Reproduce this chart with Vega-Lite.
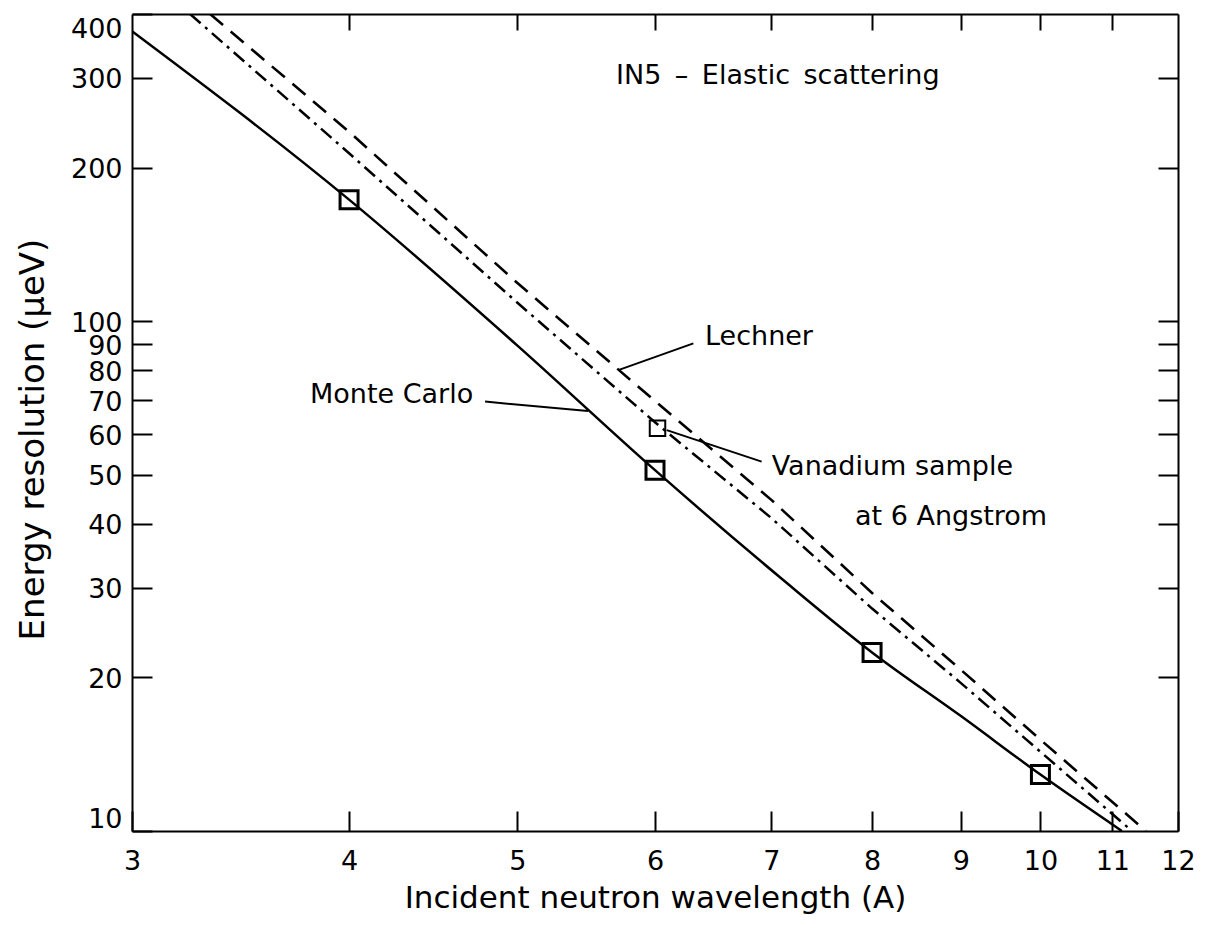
{
  "$schema": "https://vega.github.io/schema/vega-lite/v6.json",
  "width": 1046,
  "height": 817,
  "autosize": "none",
  "padding": {"left": 132, "top": 14, "right": 29, "bottom": 96},
  "background": "white",
  "config": {
    "view": {"stroke": null},
    "font": "DejaVu Sans",
    "axis": {
      "grid": false,
      "domainColor": "black",
      "domainWidth": 2,
      "tickColor": "black",
      "tickWidth": 2,
      "labelColor": "black",
      "titleColor": "black",
      "labelFont": "DejaVu Sans",
      "titleFont": "DejaVu Sans",
      "labelFontSize": 27,
      "titleFontSize": 31,
      "titleFontWeight": "normal",
      "labelOverlap": false,
      "labelBound": false
    }
  },
  "datasets": {
    "curves": [
      {"series": "Monte Carlo", "wavelength": 3.0, "energy": 370},
      {"series": "Monte Carlo", "wavelength": 4.0, "energy": 173},
      {"series": "Monte Carlo", "wavelength": 5.0, "energy": 89.5},
      {"series": "Monte Carlo", "wavelength": 6.0, "energy": 51},
      {"series": "Monte Carlo", "wavelength": 7.1, "energy": 31.2},
      {"series": "Monte Carlo", "wavelength": 8.0, "energy": 22.4},
      {"series": "Monte Carlo", "wavelength": 9.0, "energy": 16.8},
      {"series": "Monte Carlo", "wavelength": 10.0, "energy": 12.9},
      {"series": "Monte Carlo", "wavelength": 11.14, "energy": 10},
      {"series": "Lechner", "wavelength": 3.327, "energy": 400},
      {"series": "Lechner", "wavelength": 4.0, "energy": 235},
      {"series": "Lechner", "wavelength": 5.0, "energy": 118.7},
      {"series": "Lechner", "wavelength": 6.0, "energy": 69.7},
      {"series": "Lechner", "wavelength": 7.0, "energy": 44.6},
      {"series": "Lechner", "wavelength": 8.0, "energy": 29.3},
      {"series": "Lechner", "wavelength": 9.0, "energy": 20.7},
      {"series": "Lechner", "wavelength": 10.0, "energy": 15.1},
      {"series": "Lechner", "wavelength": 11.5, "energy": 10},
      {"series": "Other estimate", "wavelength": 3.24, "energy": 400},
      {"series": "Other estimate", "wavelength": 4.0, "energy": 213.3},
      {"series": "Other estimate", "wavelength": 5.0, "energy": 108.6},
      {"series": "Other estimate", "wavelength": 6.0, "energy": 63.3},
      {"series": "Other estimate", "wavelength": 7.0, "energy": 41.1},
      {"series": "Other estimate", "wavelength": 8.0, "energy": 27.3},
      {"series": "Other estimate", "wavelength": 9.0, "energy": 19.5},
      {"series": "Other estimate", "wavelength": 10.0, "energy": 14.3},
      {"series": "Other estimate", "wavelength": 11.29, "energy": 10}
    ],
    "squares": [
      {"kind": "Monte Carlo", "wavelength": 4.0, "energy": 173},
      {"kind": "Monte Carlo", "wavelength": 6.0, "energy": 51},
      {"kind": "Monte Carlo", "wavelength": 8.0, "energy": 22.4},
      {"kind": "Monte Carlo", "wavelength": 10.0, "energy": 12.9},
      {"kind": "Vanadium", "wavelength": 6.02, "energy": 61.6}
    ],
    "leaders": [
      {"label": "Lechner", "x1": 5.715, "y1": 80.1, "x2": 6.313, "y2": 90.4},
      {"label": "Monte Carlo", "x1": 4.79, "y1": 69.5, "x2": 5.49, "y2": 66.6},
      {"label": "Vanadium", "x1": 6.094, "y1": 61.1, "x2": 6.911, "y2": 53.0}
    ],
    "notes": [
      {"text": "IN5\u2002–\u2002Elastic\u2002scattering", "wavelength": 5.698, "energy": 291.5},
      {"text": "Lechner", "wavelength": 6.411, "energy": 89.7},
      {"text": "Monte Carlo", "wavelength": 3.798, "energy": 68.96},
      {"text": "Vanadium sample", "wavelength": 7.004, "energy": 49.9},
      {"text": "at 6 Angstrom", "wavelength": 7.821, "energy": 39.8}
    ]
  },
  "layer": [
    {
      "data": {"name": "curves"},
      "transform": [{"filter": "datum.series === 'Monte Carlo'"}],
      "mark": {"type": "line", "color": "black", "strokeWidth": 2.5, "interpolate": "monotone", "clip": true},
      "encoding": {
        "x": {
          "field": "wavelength", "type": "quantitative",
          "scale": {"type": "log", "domain": [3, 12], "nice": false},
          "axis": {
            "orient": "bottom",
            "values": [3, 4, 5, 6, 7, 8, 9, 10, 11, 12],
            "tickSize": -20,
            "labelPadding": 37,
            "labelFlush": false,
            "labelExpr": "format(datum.value, 'd')",
            "title": "Incident neutron wavelength (A)",
            "titleY": 76,
            "titleBaseline": "alphabetic",
            "titleAlign": "center"
          }
        },
        "y": {
          "field": "energy", "type": "quantitative",
          "scale": {"type": "log", "domain": [10, 400], "nice": false},
          "axis": {
            "orient": "left",
            "values": [10, 20, 30, 40, 50, 60, 70, 80, 90, 100, 200, 300, 400],
            "tickSize": -20,
            "labelPadding": 30,
            "labelFlush": true,
            "labelOffset": 2,
            "labelExpr": "format(datum.value, 'd')",
            "title": "Energy resolution (μeV)",
            "titleX": -89,
            "titleY": 425,
            "titleAngle": -90,
            "titleBaseline": "alphabetic",
            "titleAlign": "center",
            "titleFontSize": 34
          }
        }
      }
    },
    {
      "data": {"name": "curves"},
      "transform": [{"filter": "datum.series === 'Lechner'"}],
      "mark": {"type": "line", "color": "black", "strokeWidth": 2.6, "strokeDash": [17, 10], "interpolate": "linear", "clip": true},
      "encoding": {
        "x": {
          "field": "wavelength", "type": "quantitative",
          "scale": {"type": "log", "domain": [3, 12], "nice": false},
          "axis": {"orient": "top", "values": [4, 5, 6, 7, 8, 9, 10, 11], "tickSize": -16, "labels": false, "title": null}
        },
        "y": {
          "field": "energy", "type": "quantitative",
          "scale": {"type": "log", "domain": [10, 400], "nice": false},
          "axis": {"orient": "right", "values": [20, 30, 40, 50, 60, 70, 80, 90, 100, 200, 300], "tickSize": -20, "labels": false, "title": null}
        }
      }
    },
    {
      "data": {"name": "curves"},
      "transform": [{"filter": "datum.series === 'Other estimate'"}],
      "mark": {"type": "line", "color": "black", "strokeWidth": 2.5, "strokeDash": [14, 6, 3, 6], "interpolate": "linear", "clip": true},
      "encoding": {
        "x": {"field": "wavelength", "type": "quantitative", "scale": {"type": "log", "domain": [3, 12], "nice": false}, "axis": null},
        "y": {"field": "energy", "type": "quantitative", "scale": {"type": "log", "domain": [10, 400], "nice": false}, "axis": null}
      }
    },
    {
      "data": {"name": "leaders"},
      "mark": {"type": "rule", "color": "black", "strokeWidth": 2},
      "encoding": {
        "x": {"field": "x1", "type": "quantitative", "scale": {"type": "log", "domain": [3, 12], "nice": false}, "axis": null},
        "y": {"field": "y1", "type": "quantitative", "scale": {"type": "log", "domain": [10, 400], "nice": false}, "axis": null},
        "x2": {"field": "x2"},
        "y2": {"field": "y2"}
      }
    },
    {
      "data": {"name": "squares"},
      "transform": [{"filter": "datum.kind === 'Monte Carlo'"}],
      "mark": {"type": "point", "shape": "square", "filled": false, "size": 324, "strokeWidth": 3, "color": "black", "opacity": 1},
      "encoding": {
        "x": {"field": "wavelength", "type": "quantitative", "scale": {"type": "log", "domain": [3, 12], "nice": false}, "axis": null},
        "y": {"field": "energy", "type": "quantitative", "scale": {"type": "log", "domain": [10, 400], "nice": false}, "axis": null}
      }
    },
    {
      "data": {"name": "squares"},
      "transform": [{"filter": "datum.kind === 'Vanadium'"}],
      "mark": {"type": "point", "shape": "square", "filled": false, "size": 240, "strokeWidth": 2, "color": "black", "opacity": 1},
      "encoding": {
        "x": {"field": "wavelength", "type": "quantitative", "scale": {"type": "log", "domain": [3, 12], "nice": false}, "axis": null},
        "y": {"field": "energy", "type": "quantitative", "scale": {"type": "log", "domain": [10, 400], "nice": false}, "axis": null}
      }
    },
    {
      "data": {"name": "notes"},
      "mark": {"type": "text", "align": "left", "baseline": "alphabetic", "fontSize": 27, "font": "DejaVu Sans", "color": "black"},
      "encoding": {
        "x": {"field": "wavelength", "type": "quantitative", "scale": {"type": "log", "domain": [3, 12], "nice": false}, "axis": null},
        "y": {"field": "energy", "type": "quantitative", "scale": {"type": "log", "domain": [10, 400], "nice": false}, "axis": null},
        "text": {"field": "text"}
      }
    }
  ],
  "resolve": {"axis": {"x": "independent", "y": "independent"}}
}
